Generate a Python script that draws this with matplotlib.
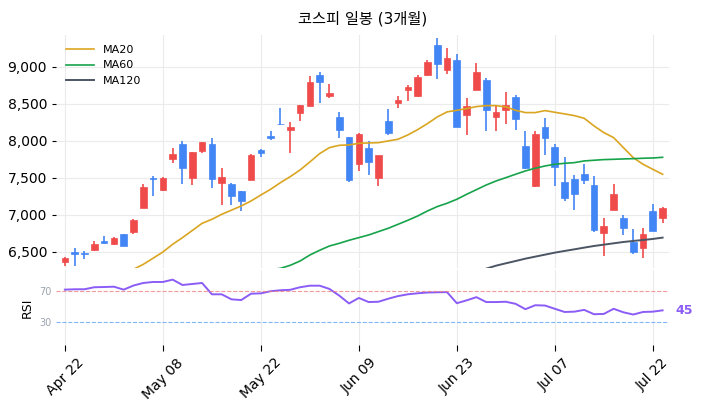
import matplotlib
matplotlib.use("Agg")
import matplotlib.pyplot as plt
import numpy as np
from matplotlib.ticker import FuncFormatter

plt.rcParams['font.family'] = ['DejaVu Sans', 'Noto Sans CJK KR']

opens = [6369,6495,6486,6523,6649,6613,6743,6775,7090,7505,7342,7761,7955,7505,7870,7955,7437,7414,7320,7477,
         7878,8063,8234,8153,8383,8473,8892,8613,8324,8054,7694,7905,7505,8270,8518,8689,8608,8887,9293,8955,
         9095,8356,8694,8824,8329,8414,8595,7932,7387,8189,7919,7446,7491,7550,7405,6757,7072,6955,6640,6550,7050,6955]
closes = [6414,6477,6468,6604,6627,6685,6586,6928,7378,7486,7500,7824,7640,7847,7982,7491,7514,7261,7194,7811,
          7842,8045,8225,8185,8486,8797,8802,8649,8149,7477,8095,7720,7811,8113,8554,8730,8865,9068,9045,9117,
          8194,8468,8932,8414,8392,8486,8302,7640,8090,8045,7653,7234,7288,7468,6797,6851,7279,6820,6505,6739,6784,7090]
highs = [6432,6550,6514,6649,6716,6703,6743,6941,7423,7523,7514,7901,8000,7847,7982,8045,7631,7437,7320,7820,
         7887,8135,8450,8257,8486,8878,8928,8766,8392,8054,8113,8000,7793,8428,8604,8757,8887,9099,9387,9252,
         9171,8577,9050,8856,8486,8667,8622,8135,8135,8315,7955,7788,7536,7694,7523,6964,7414,7000,6806,6829,7153,7108]
lows = [6311,6311,6401,6514,6604,6595,6586,6739,7090,7257,7324,7707,7414,7401,7838,7360,7131,7131,7054,7477,
        7784,8009,8212,7833,8270,8473,8509,8577,8036,7446,7595,7541,7387,8081,8450,8541,8599,8874,8833,8901,
        8194,8081,8694,8135,8135,8225,8144,7617,7378,7811,7392,7189,7068,7423,6775,6446,7072,6730,6468,6414,6784,6887]
nan = np.nan
ma20 = [nan]*7 + [6266,6333,6416,6500,6604,6694,6790,6887,6941,7009,7065,7122,7189,7270,7347,7437,7518,7608,7716,7829,7910,
        7941,7946,7968,7973,7977,8000,8023,8081,8153,8234,8324,8392,8414,8437,8464,8477,8477,8460,8414,8383,8383,8410,8387,
        8365,8342,8306,8203,8113,8045,7910,7775,7685,7617,7550]
ma60 = [nan]*21 + [6262,6279,6320,6378,6459,6523,6581,6617,6658,6694,6730,6775,6820,6874,6928,6986,7054,7113,7158,7212,
        7279,7342,7405,7459,7504,7550,7595,7631,7662,7685,7698,7707,7730,7739,7748,7752,7757,7761,7766,7770,7779]
ma120 = [nan]*43 + [6275,6315,6347,6378,6410,6437,6464,6491,6514,6536,6559,6581,6599,6617,6635,6649,6662,6676,6694]
rsi = [71.7,72.2,72.2,74.8,75.1,75.5,71.7,77.0,80.3,81.6,81.6,84.6,77.7,79.0,80.3,65.7,65.7,59.2,58.3,66.5,
       66.9,69.7,70.9,71.5,74.8,76.8,76.8,72.6,64.0,53.9,61.0,55.7,56.1,60.0,63.4,65.7,67.0,68.0,68.3,68.5,
       54.2,57.9,62.0,55.7,55.7,56.1,53.4,46.5,51.6,51.2,47.0,42.9,43.3,45.6,40.0,40.4,47.0,42.5,39.6,42.9,43.3,45.0]
tick_pos = [0,10,20,30,40,50,60]
tick_labels = ['Apr 22','May 08','May 22','Jun 09','Jun 23','Jul 07','Jul 22']

UP = '#ef4b4b'; DOWN = '#4285f4'
fig = plt.figure(figsize=(7.01,4.11), dpi=100)
ax = fig.add_axes([0.08,0.348,0.875,0.567])
ax2 = fig.add_axes([0.08,0.16,0.875,0.183])
x = np.arange(len(opens))
for i in x:
    o,c,h,l = opens[i],closes[i],highs[i],lows[i]
    col = UP if c >= o else DOWN
    ax.vlines(i, l, h, color=col, lw=1.2, zorder=3)
    ax.bar(i, max(abs(c-o),8), bottom=min(o,c), width=0.68, color=col, zorder=4, edgecolor=col, lw=0.5)
ax.plot(x, ma20, color='#daa520', lw=1.2, label='MA20', zorder=5)
ax.plot(x, ma60, color='#16a34a', lw=1.2, label='MA60', zorder=5)
ax.plot(x, ma120, color='#4b5563', lw=1.4, label='MA120', zorder=5)
ax.set_xlim(-0.9, 61.7)
ax.set_ylim(6284, 9432)
ax.set_yticks([6500,7000,7500,8000,8500,9000])
ax.yaxis.set_major_formatter(FuncFormatter(lambda v,p: f'{int(v):,}'))
ax.set_xticks(tick_pos); ax.set_xticklabels([])
ax.grid(True, color='#ebebeb', lw=0.8); ax.set_axisbelow(True)
for s in ax.spines.values(): s.set_visible(False)
ax.tick_params(axis='x', length=0)
ax.tick_params(axis='y', labelsize=10, length=3)
ax.legend(loc='upper left', frameon=False, fontsize=8, handlelength=2.5)
ax.set_title('코스피 일봉 (3개월)', fontsize=11, pad=8)

ax2.plot(x, rsi, color='#8b5cf6', lw=1.4)
ax2.axhline(70, color='#f08080', ls='--', lw=0.8, alpha=0.8)
ax2.axhline(30, color='#60a5fa', ls='--', lw=0.8, alpha=0.8)
ax2.set_xlim(-0.9, 61.7); ax2.set_ylim(0, 97)
ax2.set_yticks([30,70])
ax2.tick_params(axis='y', labelsize=7, colors='#9ca3af', length=0)
ax2.set_xticks(tick_pos); ax2.set_xticklabels(tick_labels, rotation=45, fontsize=10)
ax2.tick_params(axis='x', length=4)
ax2.grid(True, axis='x', color='#ebebeb', lw=0.8)
for s in ax2.spines.values(): s.set_visible(False)
ax2.set_ylabel('RSI', fontsize=9)
ax2.text(1.01, rsi[-1], f'{rsi[-1]:.0f}', transform=ax2.get_yaxis_transform(), color='#8b5cf6',
         fontsize=9, fontweight='bold', va='center')
fig.savefig('out.png', dpi=100)
